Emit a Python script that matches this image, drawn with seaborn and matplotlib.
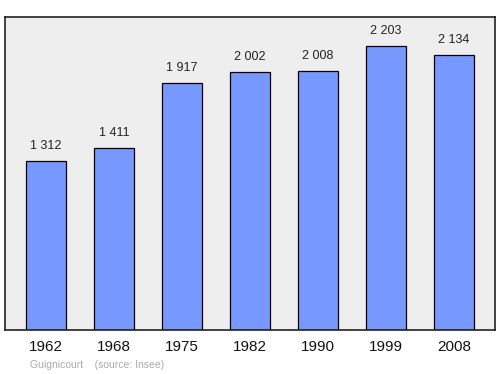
import matplotlib
matplotlib.use("Agg")
import matplotlib.pyplot as plt
import seaborn as sns
import pandas as pd

years = ["1962", "1968", "1975", "1982", "1990", "1999", "2008"]
population = [1312, 1411, 1917, 2002, 2008, 2203, 2134]
value_labels = ["1 312", "1 411", "1 917", "2 002", "2 008", "2 203", "2 134"]

sns.set_style("white")
plt.rcParams['font.family'] = ['Liberation Sans', 'DejaVu Sans']

df = pd.DataFrame({"year": years, "pop": population})

fig = plt.figure(figsize=(5, 3.74), dpi=100)
ax = fig.add_axes([5/500, 1-330/374, 490/500, 313/374])
ax.set_facecolor("#eeeeee")
sns.barplot(data=df, x="year", y="pop", ax=ax, color="#7799ff", saturation=1,
            width=0.59, edgecolor="#000000", linewidth=0.9)
ax.set_xlim(-0.6, 6.6)
ax.set_ylim(0, 2425)
for i, (v, lab) in enumerate(zip(population, value_labels)):
    ax.text(i, v + 70, lab, ha="center", va="bottom", fontsize=9, color="#222222")
ax.set_yticks([])
ax.set_xlabel("")
ax.set_ylabel("")
ax.tick_params(axis="x", length=0, labelsize=11, pad=7, colors="#111111")
for s in ax.spines.values():
    s.set_color("#222222")
    s.set_linewidth(1.2)
fig.text(30/500, 1-365/374, "Guignicourt    (source: Insee)", fontsize=7.5,
         color="#aaaaaa", va="center", ha="left")
fig.savefig("out.png", dpi=100)
